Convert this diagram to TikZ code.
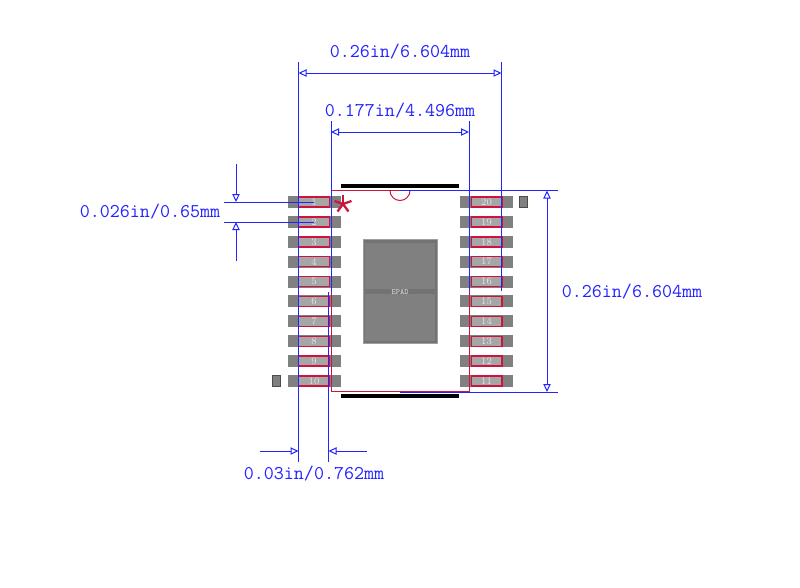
\documentclass[tikz,border=0pt]{standalone}
\usepackage{tikz}
\usetikzlibrary{
  arrows.meta, % for the open Triangle arrow tips
  positioning, % for relative positioning of the pads
}
\definecolor{dimblue}{RGB}{35,35,255}
\definecolor{leadred}{RGB}{205,20,60}
\tikzset{
  pad/.style={ % style for each solder pad
    rectangle,
    fill=black!50,
    inner sep=0pt,
    outer sep=0pt,
    minimum width=39.75pt,
    minimum height=9pt,
    node distance=5.92pt, % spacing between pads
  },
  lead/.style={ % style for the pin drawn on top of a pad
    rectangle,draw=leadred,
    line width=1.1pt,
    fill=black!35,
    text=black!10,
    font=\fontsize{7.5}{7.5}\selectfont,
    inner sep=0pt,
    minimum width=22.9pt,
    minimum height=7.5pt,
  },
  pinmark/.style={ % style for the small pin 1 and pin 20 markers
    rectangle,draw=black!70,
    fill=black!50,
    line width=.75pt,
    inner sep=0pt,
    minimum width=6pt,
    minimum height=8.5pt,
  },
  dim/.style={ % style for the dimension lines
    draw=dimblue,
    line width=.75pt,
  },
  dimarrow/.style={ % dimension line with open arrow tip at its end
    dim,
    -{Triangle[open,length=6pt,width=5.5pt]},
  },
  dimboth/.style={ % dimension line with open arrow tips at both ends
    dim,
    {Triangle[open,length=6pt,width=5.5pt]}-{Triangle[open,length=6pt,width=5.5pt]},
  },
  dimtext/.style={ % style for the dimension labels
    text=dimblue,
    font=\ttfamily\fontsize{14.6}{14.6}\selectfont,
    inner sep=0pt,
  },
}

\begin{document}
\begin{tikzpicture}[x=.75pt,y=-.75pt]

	\useasboundingbox (0,0) rectangle (800,587);

	% left column
	\node[pad] (p1) at (314,202) {};
	\node[pad,below=of p1] (p2) {};
	\node[pad,below=of p2] (p3) {};
	\node[pad,below=of p3] (p4) {};
	\node[pad,below=of p4] (p5) {};
	\node[pad,below=of p5] (p6) {};
	\node[pad,below=of p6] (p7) {};
	\node[pad,below=of p7] (p8) {};
	\node[pad,below=of p8] (p9) {};
	\node[pad,below=of p9] (p10) {};

	\node[lead] (l1) at (p1) {1};
	\node[lead] (l2) at (p2) {2};
	\node[lead] (l3) at (p3) {3};
	\node[lead] (l4) at (p4) {4};
	\node[lead] (l5) at (p5) {5};
	\node[lead] (l6) at (p6) {6};
	\node[lead] (l7) at (p7) {7};
	\node[lead] (l8) at (p8) {8};
	\node[lead] (l9) at (p9) {9};
	\node[lead] (l10) at (p10) {10};

	% right column
	\node[pad] (p20) at (486.5,202) {};
	\node[pad,below=of p20] (p19) {};
	\node[pad,below=of p19] (p18) {};
	\node[pad,below=of p18] (p17) {};
	\node[pad,below=of p17] (p16) {};
	\node[pad,below=of p16] (p15) {};
	\node[pad,below=of p15] (p14) {};
	\node[pad,below=of p14] (p13) {};
	\node[pad,below=of p13] (p12) {};
	\node[pad,below=of p12] (p11) {};

	\node[lead] (l20) at (p20) {20};
	\node[lead] (l19) at (p19) {19};
	\node[lead] (l18) at (p18) {18};
	\node[lead] (l17) at (p17) {17};
	\node[lead] (l16) at (p16) {16};
	\node[lead] (l15) at (p15) {15};
	\node[lead] (l14) at (p14) {14};
	\node[lead] (l13) at (p13) {13};
	\node[lead] (l12) at (p12) {12};
	\node[lead] (l11) at (p11) {11};

	\node[pinmark] (m1) at (276.5,381) {};
	\node[pinmark] (m20) at (523.5,202) {};

	% exposed pad
	\node[rectangle,draw=black!38,fill=black!55,line width=.75pt,inner sep=0pt,minimum width=55.5pt,minimum height=77.5pt] (epad) at (400,291.5) {};
	\node[rectangle,fill=black!50,inner sep=0pt,minimum width=52.5pt,minimum height=34.5pt] (epada) at (400,266) {};
	\node[rectangle,fill=black!50,inner sep=0pt,minimum width=52.5pt,minimum height=35.25pt] (epadb) at (400,317.5) {};
	\node[text=black!15,font=\ttfamily\fontsize{6}{6}\selectfont,inner sep=0pt] (epadtext) at (400,291.5) {EPAD};

	% body
	\node[rectangle,draw=leadred,line width=.75pt,inner sep=0pt,outer sep=0pt,minimum width=103.5pt,minimum height=151.1pt] (body) at (400,291.25) {};
	\node[rectangle,fill=black,inner sep=0pt,minimum width=88.5pt,minimum height=3.4pt] (topbar) at (400,186) {};
	\node[rectangle,fill=black,inner sep=0pt,minimum width=88.5pt,minimum height=3.4pt] (botbar) at (400,396) {};
	\draw[leadred,line width=.75pt] (390,190.5) arc[start angle=180,end angle=0,radius=10];

	% pin 1 star
	\coordinate (star) at (343,204);
	\draw[leadred,line width=1.7pt] (star) -- ++(0,-9);
	\draw[leadred,line width=1.7pt] (star) -- ++(-8.5,-3);
	\draw[leadred,line width=1.7pt] (star) -- ++(8.5,-3);
	\draw[leadred,line width=1.7pt] (star) -- ++(-5.5,7.5);
	\draw[leadred,line width=1.7pt] (star) -- ++(5.5,7.5);

	% overall width
	\coordinate (wa) at (298.5,62);
	\coordinate (wb) at (298.5,462);
	\coordinate (wc) at (501.5,62);
	\coordinate (wd) at (501.5,291);
	\coordinate (we) at (298.5,73);
	\coordinate (wf) at (501.5,73);
	\draw[dim] (wa) -- (wb);
	\draw[dim] (wc) -- (wd);
	\draw[dimboth] (we) -- (wf);
	\node[dimtext] (wtext) at (400,52) {0.26in/6.604mm};

	% body width
	\coordinate (ba) at (331,121);
	\coordinate (bb) at (331,292);
	\coordinate (bc) at (469,121);
	\coordinate (bd) at (469,291);
	\coordinate (be) at (331,132);
	\coordinate (bf) at (469,132);
	\draw[dim] (ba) -- (bb);
	\draw[dim] (bc) -- (bd);
	\draw[dimboth] (be) -- (bf);
	\node[dimtext] (btext) at (400,111) {0.177in/4.496mm};

	% pitch
	\coordinate (pa) at (224,202);
	\coordinate (pb) at (314,202);
	\coordinate (pc) at (224,222);
	\coordinate (pd) at (314,222);
	\coordinate (pe) at (236,164);
	\coordinate (pf) at (236,202);
	\coordinate (pg) at (236,261);
	\coordinate (ph) at (236,222);
	\draw[dim] (pa) -- (pb);
	\draw[dim] (pc) -- (pd);
	\draw[dimarrow] (pe) -- (pf);
	\draw[dimarrow] (pg) -- (ph);
	\node[dimtext] (ptext) at (150,212) {0.026in/0.65mm};

	% overall height
	\coordinate (ha) at (400,190.5);
	\coordinate (hb) at (558,190.5);
	\coordinate (hc) at (400,392);
	\coordinate (hd) at (558,392);
	\coordinate (he) at (547,190.5);
	\coordinate (hf) at (547,392);
	\draw[dim] (ha) -- (hb);
	\draw[dim] (hc) -- (hd);
	\draw[dimboth] (he) -- (hf);
	\node[dimtext] (htext) at (632,292) {0.26in/6.604mm};

	% pad overhang
	\coordinate (oa) at (328.5,292);
	\coordinate (ob) at (328.5,462);
	\coordinate (oc) at (260,451);
	\coordinate (od) at (298.5,451);
	\coordinate (oe) at (367,451);
	\coordinate (of) at (328.5,451);
	\draw[dim] (oa) -- (ob);
	\draw[dimarrow] (oc) -- (od);
	\draw[dimarrow] (oe) -- (of);
	\node[dimtext] (otext) at (314,474) {0.03in/0.762mm};

\end{tikzpicture}
\end{document}
